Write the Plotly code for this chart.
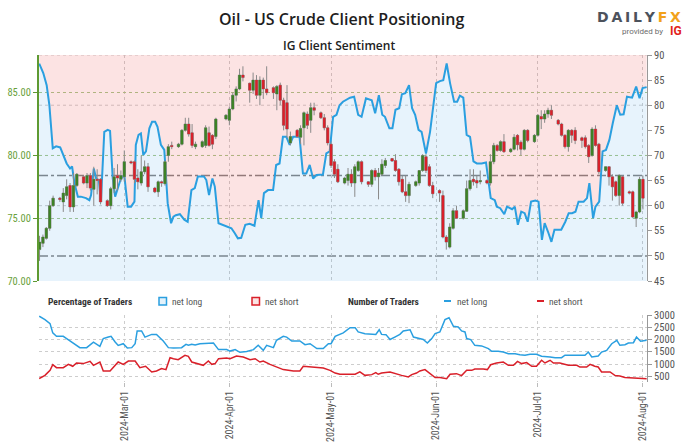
import plotly.graph_objects as go
import pandas as pd

# ---------------- price candles (IG US Crude, daily incl. Sunday sessions) ----------------
candle_date = (
    ["2024-02-%02d" % d for d in [5, 6, 7, 8, 9, 11, 12, 13, 14, 15, 16, 18, 19, 20, 21, 22, 23, 25, 26, 27, 28, 29]]
    + ["2024-03-%02d" % d for d in [1, 3, 4, 5, 6, 7, 8, 10, 11, 12, 13, 14, 15, 17, 18, 19, 20, 21, 22, 24, 25, 26, 27, 28, 31]]
    + ["2024-04-%02d" % d for d in [1, 2, 3, 4, 5, 7, 8, 9, 10, 11, 12, 14, 15, 16, 17, 18, 19, 21, 22, 23, 24, 25, 26, 28, 29, 30]]
    + ["2024-05-%02d" % d for d in [1, 2, 3, 5, 6, 7, 8, 9, 10, 12, 13, 14, 15, 16, 17, 19, 20, 21, 22, 23, 24, 26, 27, 28, 29, 30, 31]]
    + ["2024-06-%02d" % d for d in [2, 3, 4, 5, 6, 7, 9, 10, 11, 12, 13, 14, 16, 17, 18, 19, 20, 21, 23, 24, 25, 26, 27, 28, 30]]
    + ["2024-07-%02d" % d for d in [1, 2, 3, 4, 5, 7, 8, 9, 10, 11, 12, 14, 15, 16, 17, 18, 19, 21, 22, 23, 24, 25, 26, 28, 29, 30, 31]]
    + ["2024-08-01"]
)
c_open = [
    72.5, 73.0, 73.4, 74.2, 76.0, 76.6, 76.3, 76.8, 77.6, 75.9, 77.6, 78.3, 77.8, 78.4, 77.3, 78.1, 78.1, 76.4, 76.0, 77.35, 78.4, 78.1,
    78.3, 79.5, 79.5, 78.2, 77.8, 78.7, 79.1, 77.4, 77.1, 77.9, 77.75, 80.0, 80.8, 80.7, 80.9, 82.0, 82.5, 81.8, 80.7, 80.7, 80.8, 81.8, 81.6, 81.5, 82.9,
    82.8, 83.7, 84.8, 85.3, 86.4, 85.75, 85.2, 86.0, 84.8, 86.0, 85.3, 85.4, 84.9, 85.6, 84.4, 84.2, 81.0, 82.0, 81.45, 82.2, 83.3, 82.8, 83.8, 83.4, 83.0, 82.2,
    80.9, 79.5, 78.9, 77.8, 78.0, 78.5, 77.8, 78.8, 79.5, 77.9, 77.7, 78.8, 78.3, 78.5, 79.2, 79.75, 79.6, 78.9, 78.1, 77.1, 76.8, 77.6, 77.8, 78.8, 79.9, 79.1, 77.6,
    77.2, 76.8, 73.5, 72.7, 74.2, 75.6, 75.0, 75.55, 77.35, 78.1, 78.0, 77.9, 78.0, 77.8, 79.5, 80.8, 80.4, 81.1, 80.3, 80.5, 81.6, 81.05, 80.5, 82.0, 81.1,
    81.6, 83.1, 82.9, 83.3, 83.6, 82.8, 82.5, 81.6, 80.7, 82.0, 82.0, 81.4, 81.4, 80.8, 80.0, 82.1, 80.9, 78.8, 79.1, 78.3, 77.9, 76.8, 78.3, 77.1, 77.1, 75.0, 75.5,
    78.1,
]
c_high = [
    73.6, 73.7, 74.3, 76.4, 76.8, 76.7, 77.4, 78.1, 77.8, 78.6, 78.6, 78.4, 78.6, 78.6, 79.1, 78.9, 78.2, 76.5, 77.5, 79.0, 79.3, 78.8,
    80.4, 79.6, 79.6, 78.9, 80.0, 79.6, 79.4, 77.5, 78.0, 78.0, 79.6, 80.9, 81.1, 81.0, 82.1, 83.0, 83.0, 82.5, 81.1, 81.2, 82.4, 82.3, 81.7, 83.0, 83.3,
    83.9, 85.0, 85.5, 86.9, 87.1, 85.8, 86.6, 86.4, 86.3, 86.2, 87.1, 85.5, 85.6, 85.8, 84.6, 85.6, 81.9, 82.1, 82.4, 83.5, 83.5, 84.2, 84.2, 83.5, 83.3, 82.4,
    81.1, 79.7, 79.3, 78.3, 79.0, 78.9, 79.3, 79.6, 79.6, 77.95, 78.9, 79.0, 79.0, 79.7, 79.8, 79.8, 80.1, 79.0, 78.4, 78.4, 77.9, 78.0, 78.8, 80.1, 80.1, 79.3, 77.9,
    77.3, 77.2, 73.65, 74.6, 75.8, 76.0, 75.7, 78.0, 78.9, 78.9, 78.4, 78.8, 78.1, 80.1, 81.0, 80.9, 81.2, 81.7, 80.6, 81.7, 81.7, 81.2, 82.1, 82.1, 81.7,
    83.3, 83.6, 83.6, 83.8, 84.0, 82.9, 82.6, 81.7, 82.1, 82.1, 82.25, 81.5, 81.6, 80.9, 82.25, 82.4, 81.0, 79.1, 79.1, 78.5, 78.0, 78.5, 78.4, 77.2, 77.2, 75.6, 78.3,
    78.4,
]
c_low = [
    71.6, 72.7, 73.3, 74.0, 75.9, 76.3, 75.5, 76.5, 75.5, 75.5, 77.5, 77.7, 77.4, 77.2, 76.0, 76.9, 76.1, 75.9, 75.7, 77.0, 77.2, 77.9,
    77.9, 79.3, 77.8, 77.3, 77.6, 78.5, 77.1, 77.0, 76.7, 77.5, 77.6, 79.5, 80.5, 80.6, 80.8, 81.9, 81.5, 80.6, 80.5, 80.6, 80.6, 80.7, 80.5, 81.3, 82.8,
    82.4, 83.6, 84.3, 85.2, 85.9, 84.2, 84.9, 84.5, 84.0, 84.5, 84.8, 84.5, 83.6, 84.0, 82.0, 81.4, 80.8, 81.4, 80.9, 80.8, 82.1, 81.8, 83.2, 82.9, 82.0, 80.8,
    79.0, 78.2, 77.8, 77.7, 77.6, 77.5, 76.7, 78.7, 77.7, 77.5, 77.5, 78.0, 76.5, 78.4, 79.0, 79.5, 78.7, 77.6, 77.0, 76.3, 76.2, 77.5, 77.6, 78.7, 78.6, 77.5, 76.6,
    76.3, 73.4, 72.5, 72.6, 74.1, 74.95, 74.9, 75.5, 77.2, 77.6, 77.4, 77.7, 77.7, 77.6, 79.3, 80.3, 80.3, 80.2, 80.2, 80.4, 80.4, 80.0, 80.4, 81.05, 81.0,
    81.5, 82.1, 82.6, 83.0, 82.9, 82.4, 81.5, 80.55, 80.3, 81.0, 80.9, 80.6, 80.55, 79.4, 79.9, 80.7, 78.5, 78.7, 77.6, 76.4, 76.7, 76.0, 76.0, 76.9, 75.0, 74.3, 75.4,
    75.7,
]
c_close = [
    73.1, 73.5, 74.2, 76.0, 76.6, 76.5, 77.0, 77.5, 75.9, 77.6, 78.5, 77.8, 78.4, 77.4, 78.1, 78.0, 76.3, 76.0, 77.35, 78.3, 78.2, 78.4,
    79.5, 79.4, 78.1, 77.9, 78.7, 79.1, 77.5, 77.1, 77.9, 77.8, 79.5, 80.7, 80.7, 80.9, 82.0, 82.5, 81.7, 80.8, 80.9, 81.1, 82.2, 80.8, 80.9, 82.9, 83.2,
    83.7, 84.8, 85.3, 86.4, 86.2, 85.2, 86.0, 84.8, 86.0, 85.3, 85.0, 85.0, 85.5, 84.4, 82.4, 82.1, 81.5, 81.5, 82.15, 83.4, 82.4, 83.8, 83.6, 83.0, 82.2, 81.0,
    79.2, 78.5, 77.9, 78.2, 78.5, 77.8, 79.1, 79.5, 77.9, 77.7, 78.8, 78.3, 78.6, 79.3, 79.6, 79.55, 78.8, 77.9, 77.1, 76.8, 77.7, 77.9, 78.8, 80.0, 78.8, 77.6, 76.95,
    77.0, 73.5, 73.1, 74.3, 75.6, 75.0, 75.6, 77.35, 78.0, 77.9, 77.8, 78.0, 77.8, 79.5, 80.8, 80.4, 81.1, 80.3, 80.5, 81.45, 80.85, 80.5, 82.0, 81.2, 81.6,
    83.2, 82.9, 83.3, 83.6, 83.2, 82.5, 81.6, 80.7, 82.0, 81.6, 81.2, 81.2, 80.7, 79.9, 82.1, 80.8, 78.7, 79.1, 78.3, 77.5, 76.8, 78.4, 76.2, 77.0, 75.1, 75.5, 78.1,
    76.6,
]

# ---------------- IG client sentiment: % of traders net long (day offset from 2024-03-01) ----------------
sent_day = [
    -25.1, -23.9, -22.9, -22.1, -21.1, -20.1, -18.9, -18.0, -17.0, -16.0,
    -15.4, -14.7, -13.7, -12.8, -11.3, -10.3, -9.8, -9.0, -8.3, -7.5,
    -6.9, -5.9, -4.9, -4.2, -3.4, -2.7, -2.0, -1.0, 0.0, 1.0,
    2.0, 3.0, 3.4, 4.2, 4.9, 5.6, 6.4, 7.4, 8.2, 9.1,
    9.8, 10.8, 11.8, 12.8, 13.8, 14.5, 15.2, 16.4, 17.7, 18.7,
    19.8, 20.8, 21.7, 23.5, 24.2, 25.0, 26.0, 26.7, 27.8, 28.6,
    30.6, 31.6, 32.6, 33.5, 34.5, 35.7, 37.0, 38.4, 39.6, 40.4,
    41.2, 42.4, 43.9, 44.8, 45.8, 46.8, 47.8, 48.8, 49.8, 51.7,
    52.7, 53.7, 54.7, 55.7, 56.7, 58.6, 59.6, 60.6, 61.6, 62.6,
    63.5, 64.5, 66.6, 67.8, 69.0, 70.0, 71.3, 73.0, 74.0, 75.1,
    76.1, 76.9, 78.2, 79.1, 80.0, 81.1, 81.9, 82.9, 84.0, 84.9,
    85.8, 86.8, 87.7, 89.0, 90.2, 92.0, 93.1, 94.1, 95.1, 96.1,
    97.3, 98.2, 99.0, 100.0, 101.0, 102.0, 103.0, 104.0, 105.4, 106.7,
    107.4, 108.1, 109.3, 109.9, 110.9, 112.1, 112.9, 114.4, 115.2, 116.1,
    117.1, 118.1, 119.0, 120.0, 121.3, 122.2, 123.2, 124.0, 125.0, 126.0,
    126.9, 128.9, 130.1, 131.1, 132.1, 133.1, 134.0, 135.5, 136.5, 137.2,
    138.3, 139.0, 140.1, 141.1, 142.1, 143.1, 144.1, 145.3, 146.3, 147.3,
    148.3, 149.8, 151.0, 152.0, 152.9, 154.1,
]
sent_pct = [
    88.3, 86.4, 84.0, 80.0, 71.4, 71.8, 71.6, 70.1, 68.4, 67.4,
    67.8, 64.5, 61.8, 61.8, 61.5, 61.1, 62.1, 67.4, 65.4, 65.1,
    60.8, 74.7, 75.1, 74.9, 65.4, 61.8, 63.5, 65.4, 66.1, 59.8,
    59.8, 60.8, 72.1, 74.1, 74.4, 70.1, 70.8, 75.4, 76.7, 76.7,
    75.7, 72.1, 71.1, 60.5, 56.5, 57.8, 58.1, 58.3, 57.2, 56.8,
    63.1, 63.5, 65.8, 65.8, 65.1, 62.1, 65.4, 63.8, 56.5, 56.3,
    55.8, 55.5, 54.5, 53.5, 53.6, 56.2, 56.4, 56.0, 61.1, 57.5,
    62.5, 63.1, 63.1, 68.1, 68.4, 73.7, 73.7, 72.1, 73.7, 73.7,
    66.4, 66.4, 68.1, 65.4, 66.1, 66.2, 70.4, 70.8, 77.7, 78.1,
    80.0, 80.7, 81.5, 81.7, 78.1, 77.7, 81.4, 81.0, 78.4, 82.0,
    78.1, 77.7, 75.4, 75.4, 79.1, 79.4, 82.2, 82.4, 84.0, 79.4,
    78.1, 75.1, 74.7, 70.4, 74.7, 84.4, 84.8, 85.0, 88.3, 84.4,
    80.7, 80.7, 81.9, 81.5, 74.1, 73.7, 68.8, 68.4, 68.4, 68.6,
    65.1, 61.5, 61.1, 59.8, 59.5, 58.3, 59.8, 59.3, 59.8, 56.2,
    58.8, 58.5, 56.8, 60.8, 61.0, 60.8, 53.2, 56.5, 54.8, 52.8,
    55.2, 55.2, 56.8, 58.5, 58.5, 58.8, 60.8, 60.8, 61.5, 64.5,
    57.5, 59.8, 60.8, 70.8, 71.1, 73.1, 76.4, 80.0, 78.1, 78.2,
    81.7, 81.5, 83.7, 81.4, 83.4, 83.6,
]

# ---------------- number of traders ----------------
long_day = [
    -25.1, -23.4, -21.9, -21.1, -20.0, -18.0, -17.0, -15.5, -13.1, -11.1,
    -9.1, -7.2, -6.2, -4.7, -3.9, -2.7, -1.8, -0.3, 0.9, 2.2,
    3.2, 3.8, 5.1, 6.1, 8.1, 9.5, 10.3, 11.5, 13.0, 14.5,
    16.9, 18.2, 18.9, 19.9, 20.9, 22.3, 26.3, 27.8, 30.2, 31.2,
    32.7, 34.1, 36.1, 38.1, 39.5, 41.0, 42.0, 44.0, 44.9, 46.9,
    47.9, 49.4, 51.8, 53.3, 54.8, 56.8, 58.7, 60.2, 61.0, 62.2,
    64.6, 66.6, 68.1, 69.0, 71.0, 73.5, 74.2, 75.2, 75.9, 77.2,
    78.4, 79.8, 81.3, 82.3, 84.3, 85.3, 87.2, 88.2, 89.4, 90.7,
    91.7, 93.1, 94.6, 95.8, 97.1, 98.5, 99.5, 100.5, 101.0, 102.2,
    103.4, 105.4, 107.4, 108.4, 110.3, 111.8, 113.3, 115.3, 116.7, 118.2,
    119.7, 121.6, 123.1, 124.6, 125.6, 127.1, 129.0, 130.0, 131.5, 135.9,
    136.9, 137.9, 139.8, 140.8, 142.3, 143.8, 145.3, 146.2, 147.7, 148.7,
    150.2, 151.1, 152.3, 154.1,
]
long_cnt = [
    2950, 2810, 2650, 2270, 2130, 2130, 2040, 1900, 1670, 1670,
    1890, 1720, 2040, 2100, 2130, 1900, 1760, 1830, 1655, 1670,
    1830, 2350, 2350, 2100, 2210, 2210, 2100, 1940, 1670, 1655,
    1670, 1805, 1765, 1805, 1780, 1830, 1860, 1590, 1590, 1530,
    1590, 1480, 1510, 1590, 1765, 1560, 1765, 1670, 1970, 2130,
    2100, 1940, 1940, 1790, 1830, 1630, 1630, 1830, 1830, 2130,
    2270, 2485, 2485, 2310, 2240, 2240, 2210, 2400, 2210, 2200,
    2000, 2100, 2210, 2350, 2400, 2100, 2040, 2000, 1860, 2040,
    2240, 2310, 2810, 2890, 2540, 2510, 2350, 2310, 2040, 2000,
    1765, 1740, 1630, 1520, 1520, 1490, 1420, 1420, 1380, 1360,
    1400, 1400, 1320, 1320, 1290, 1260, 1260, 1360, 1360, 1360,
    1490, 1290, 1330, 1490, 1560, 1830, 1970, 1765, 1790, 1860,
    1870, 2100, 1930, 1970,
]
short_day = [
    -25.1, -23.4, -21.9, -21.1, -20.0, -18.0, -16.5, -15.2, -14.1, -12.1,
    -10.1, -9.1, -7.2, -6.2, -4.2, -1.8, -0.3, 1.2, 3.2, 4.6,
    6.3, 8.1, 9.5, 11.0, 12.3, 13.5, 14.5, 15.9, 17.9, 18.9,
    19.9, 21.3, 23.3, 24.8, 25.8, 26.8, 27.8, 30.2, 31.2, 33.1,
    35.1, 37.1, 38.6, 40.0, 41.0, 43.0, 46.9, 49.9, 51.8, 52.8,
    54.8, 56.8, 58.7, 60.7, 62.2, 63.6, 66.1, 68.1, 69.5, 71.0,
    73.0, 74.2, 74.9, 75.9, 78.4, 79.8, 81.8, 83.8, 84.8, 86.2,
    87.2, 88.7, 90.7, 91.7, 93.1, 95.1, 96.1, 98.0, 99.5, 101.0,
    102.5, 103.4, 105.9, 107.1, 108.1, 109.8, 111.8, 113.3, 114.8, 116.0,
    117.2, 118.7, 120.2, 121.6, 123.1, 124.1, 125.6, 126.6, 128.5, 131.0,
    133.5, 134.4, 136.4, 137.4, 138.8, 139.8, 140.8, 143.3, 144.8, 146.2,
    147.7, 150.2, 152.1, 154.1,
]
short_cnt = [
    410, 540, 750, 980, 855, 855, 990, 910, 1045, 1020,
    1110, 950, 1085, 720, 720, 1085, 990, 1125, 1125, 855,
    910, 680, 720, 815, 775, 1260, 1220, 1180, 1355, 1315,
    1085, 1020, 950, 1125, 990, 1020, 1220, 1250, 1220, 1330,
    1290, 1180, 1220, 1085, 1125, 990, 775, 720, 720, 910,
    880, 840, 840, 745, 635, 585, 600, 585, 680, 540,
    570, 650, 585, 635, 680, 610, 540, 475, 570, 635,
    720, 775, 540, 450, 450, 405, 585, 610, 530, 745,
    745, 800, 800, 775, 975, 1045, 1085, 950, 950, 1110,
    1020, 1060, 910, 910, 1155, 1045, 1155, 1045, 1045, 950,
    950, 880, 880, 990, 910, 880, 680, 680, 530, 515,
    450, 435, 435, 405,
]

month_ticks = ["2024-03-01", "2024-04-01", "2024-05-01", "2024-06-01", "2024-07-01", "2024-08-01"]
price_ticks = [70, 75, 80, 85]
pct_ticks = [45, 50, 55, 60, 65, 70, 75, 80, 85, 90]
pct_grid = [60, 70, 80, 90]
pct_refs = [50, 66]
count_ticks = [500, 1000, 1500, 2000, 2500, 3000]

# ---------------- styling ----------------
W_PX, H_PX = 697, 446
ML, MR, MT, MB = 39, 50, 55, 64
PW, PH = W_PX - ML - MR, H_PX - MT - MB
BLUE = "#2a9fe0"
RED = "#d9202a"
GREEN = "#3d8226"
GRID_GREEN = "#a7c78c"
GRID_GRAY = "#cdcdcd"
TXT = "#555555"
TICK_FONT = "Roboto Condensed, Liberation Sans Narrow, DejaVu Sans Condensed, Roboto, sans-serif"
SENT_RANGE = [45, 90]
PRICE_RANGE = [70, 88.0]
COUNT_RANGE = [270, 3000]


def px_x(px):
    return (px - ML) / PW


def px_y(py):
    return (H_PX - MB - py) / PH


BASE = pd.Timestamp("2024-03-01")


def to_dates(days):
    return [BASE + pd.Timedelta(days=float(d)) for d in days]


x_range = [BASE + pd.Timedelta(days=-25.16), BASE + pd.Timedelta(days=154.2)]

fig = go.Figure()

sent_x = to_dates(sent_day)
# pink area above the sentiment line (up to the top of the axis)
fig.add_trace(go.Scatter(x=sent_x, y=[SENT_RANGE[1]] * len(sent_x), mode="lines",
                         line=dict(width=0), xaxis="x2", yaxis="y2", hoverinfo="skip"))
fig.add_trace(go.Scatter(x=sent_x, y=sent_pct, mode="lines", line=dict(width=0),
                         fill="tonexty", fillcolor="rgba(235,60,60,0.14)",
                         xaxis="x2", yaxis="y2", hoverinfo="skip"))
# blue area + line
fig.add_trace(go.Scatter(x=sent_x, y=sent_pct, mode="lines", line=dict(color=BLUE, width=2),
                         fill="tozeroy", fillcolor="rgba(40,150,230,0.11)",
                         xaxis="x2", yaxis="y2", hoverinfo="skip"))

# candles: first pass gives grey wicks, second pass solid bodies
fig.add_trace(go.Candlestick(
    x=candle_date, open=c_open, high=c_high, low=c_low, close=c_close,
    xaxis="x2", yaxis="y3", whiskerwidth=0, hoverinfo="skip",
    increasing=dict(line=dict(color="#8a8a8a", width=1), fillcolor=GREEN),
    decreasing=dict(line=dict(color="#8a8a8a", width=1), fillcolor=RED)))
fig.add_trace(go.Candlestick(
    x=candle_date, open=c_open, high=c_high, low=c_low, close=c_close,
    xaxis="x2", yaxis="y3", whiskerwidth=0, hoverinfo="skip",
    increasing=dict(line=dict(color=GREEN, width=0), fillcolor=GREEN),
    decreasing=dict(line=dict(color=RED, width=0), fillcolor=RED)))

# number of traders
fig.add_trace(go.Scatter(x=to_dates(long_day), y=long_cnt, mode="lines",
                         line=dict(color=BLUE, width=1.5), xaxis="x", yaxis="y", hoverinfo="skip"))
fig.add_trace(go.Scatter(x=to_dates(short_day), y=short_cnt, mode="lines",
                         line=dict(color=RED, width=1.5), xaxis="x", yaxis="y", hoverinfo="skip"))

tickfont = dict(family=TICK_FONT, size=10.5, color=TXT)

fig.update_layout(
    width=W_PX, height=H_PX,
    margin=dict(l=ML, r=MR, t=MT, b=MB, autoexpand=False),
    paper_bgcolor="white", plot_bgcolor="white",
    showlegend=False, hovermode=False,
    boxgap=0.3, boxgroupgap=0,
    font=dict(family=TICK_FONT, size=10, color=TXT),
    xaxis=dict(
        domain=[0, 1], anchor="y", type="date", range=x_range, automargin=False,
        tickmode="array", tickvals=month_ticks, tickformat="%Y-%b-%d", tickangle=-90,
        ticks="outside", ticklen=4, tickcolor="#bbbbbb",
        showgrid=True, gridcolor=GRID_GRAY, griddash="dot", gridwidth=1,
        showline=False, zeroline=False,
        tickfont=dict(family=TICK_FONT, size=10, color=TXT),
        rangeslider=dict(visible=False),
    ),
    xaxis2=dict(
        domain=[0, 1], anchor="y2", type="date", range=x_range, matches="x", automargin=False,
        tickmode="array", tickvals=month_ticks, showticklabels=False, ticks="",
        showgrid=True, gridcolor=GRID_GRAY, griddash="dot", gridwidth=1,
        showline=False, zeroline=False, rangeslider=dict(visible=False),
    ),
    yaxis=dict(
        domain=[0, (H_PX - MB - 315) / PH], anchor="x", side="right", range=COUNT_RANGE,
        automargin=False,
        tickmode="array", tickvals=count_ticks, tickformat="d",
        ticks="outside", ticklen=4, tickcolor="#999999",
        showline=True, linecolor="#999999", linewidth=1,
        showgrid=True, gridcolor=GRID_GRAY, griddash="dot", gridwidth=1,
        zeroline=False, tickfont=tickfont,
    ),
    yaxis2=dict(
        domain=[(H_PX - MB - 281) / PH, 1], anchor="x2", side="right", range=SENT_RANGE,
        automargin=False,
        tickmode="array", tickvals=pct_ticks, ticksuffix="%",
        ticks="outside", ticklen=4, tickcolor="#999999",
        showline=True, linecolor="#999999", linewidth=1,
        showgrid=False, zeroline=False, tickfont=tickfont,
    ),
    yaxis3=dict(
        overlaying="y2", anchor="x2", side="left", range=PRICE_RANGE, automargin=False,
        tickmode="array", tickvals=price_ticks, tickformat=".2f",
        ticks="outside", ticklen=4, tickcolor="#5e9a32",
        showline=True, linecolor="#5e9a32", linewidth=2,
        showgrid=True, gridcolor=GRID_GREEN, griddash="dot", gridwidth=1,
        zeroline=False, tickfont=dict(family=TICK_FONT, size=10.5, color="#6a9f3c"),
    ),
)

shapes = []
for v in pct_grid:
    shapes.append(dict(type="line", xref="x2 domain", x0=0, x1=1, yref="y2", y0=v, y1=v,
                       line=dict(color=GRID_GRAY, width=1, dash="dot"), layer="below"))
for v in pct_refs:
    shapes.append(dict(type="line", xref="x2 domain", x0=0, x1=1, yref="y2", y0=v, y1=v,
                       line=dict(color="#858585", width=1.5, dash="dashdot"), layer="below"))

# legend glyphs
LEG_Y = 301
shapes.append(dict(type="rect", xref="paper", yref="paper",
                   x0=px_x(159), x1=px_x(166.5), y0=px_y(305), y1=px_y(297.5),
                   line=dict(color=BLUE, width=1.5), fillcolor="#e3f2fb"))
shapes.append(dict(type="rect", xref="paper", yref="paper",
                   x0=px_x(252), x1=px_x(259.5), y0=px_y(305), y1=px_y(297.5),
                   line=dict(color=RED, width=1.5), fillcolor="#fbe3e3"))
shapes.append(dict(type="line", xref="paper", yref="paper",
                   x0=px_x(444), x1=px_x(451), y0=px_y(LEG_Y), y1=px_y(LEG_Y),
                   line=dict(color=BLUE, width=2)))
shapes.append(dict(type="line", xref="paper", yref="paper",
                   x0=px_x(537), x1=px_x(544), y0=px_y(LEG_Y), y1=px_y(LEG_Y),
                   line=dict(color=RED, width=2)))
fig.update_layout(shapes=shapes)

ann = []


def add_text(text, px, py, size, color, xanchor="left", family=TICK_FONT, weight=None):
    f = dict(family=family, size=size, color=color)
    if weight is not None:
        f["weight"] = weight
    ann.append(dict(text=text, x=px_x(px), y=px_y(py), xref="paper", yref="paper",
                    xanchor=xanchor, yanchor="middle", showarrow=False, font=f))


add_text("Oil - US Crude Client Positioning", 341.5, 19, 16, "#1e1e1e", "center",
         "Open Sans, Noto Sans, sans-serif", 600)
add_text("IG Client Sentiment", 338.5, 46, 12, "#222222", "center",
         "Open Sans, Noto Sans, sans-serif", 600)

add_text("<b>Percentage of Traders</b>", 46, LEG_Y, 9.5, "#333333")
add_text("net long", 170, LEG_Y, 9.5, TXT)
add_text("net short", 263, LEG_Y, 9.5, TXT)
add_text("<b>Number of Traders</b>", 346, LEG_Y, 9.5, "#333333")
add_text("net long", 455, LEG_Y, 9.5, TXT)
add_text("net short", 547, LEG_Y, 9.5, TXT)

# DailyFX logo
add_text("<b><span style='color:#4c525c'>D\u2009A\u2009I\u2009L\u2009Y</span>"
         "<span style='color:#f2a21b'>\u2009F\u2009X</span></b>", 639, 17, 14, "#4c525c", "center",
         "DejaVu Sans, sans-serif")
add_text("provided by", 665, 31.5, 8, "#6b6b6b", "right", "Roboto, sans-serif")
add_text("<b>IG</b>", 668, 31.5, 12, "#e2231a", "left", "Roboto, sans-serif")

fig.update_layout(annotations=ann)

fig.write_html("out.html", config={"displayModeBar": False},
               post_script="document.body.style.margin='0px';")
